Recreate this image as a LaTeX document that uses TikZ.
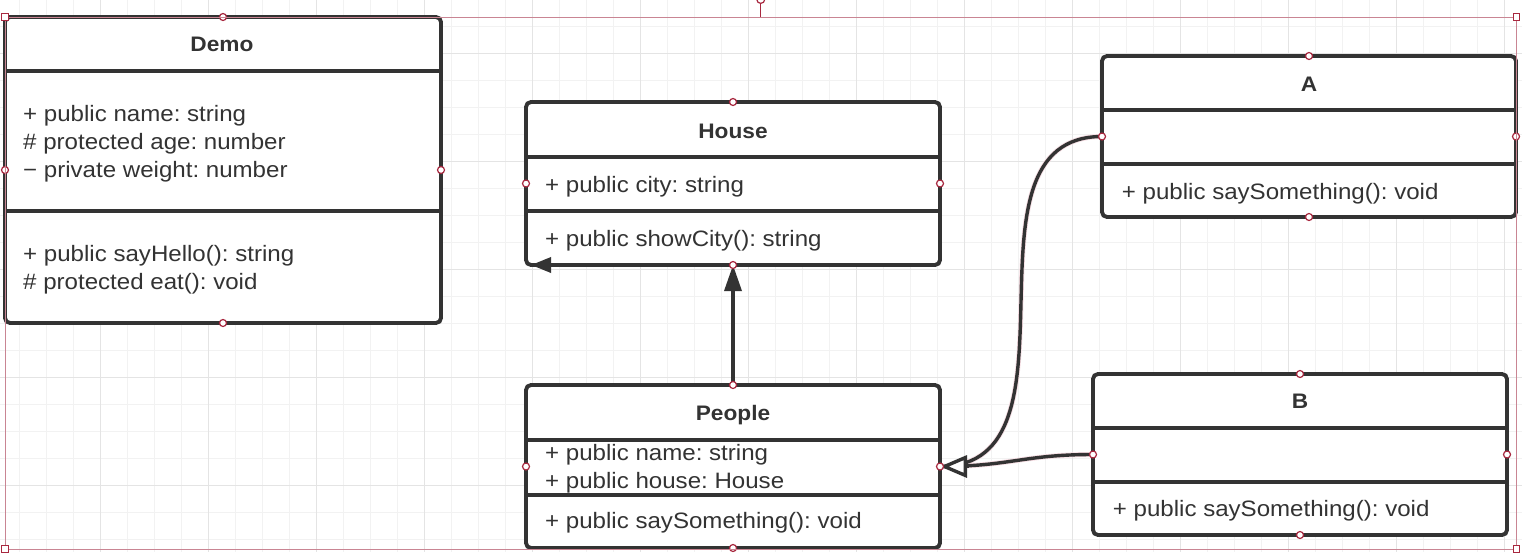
\documentclass[tikz,border=0pt]{standalone}
\usepackage{fontspec}
\setmainfont{Liberation Sans}[FakeStretch=1.08]
\usetikzlibrary{arrows.meta}
\definecolor{ink}{HTML}{333333}
\definecolor{gridminor}{HTML}{F2F2F2}
\definecolor{gridmajor}{HTML}{E4E4E4}
\definecolor{handle}{HTML}{A8283F}
\definecolor{selline}{HTML}{C98593}
\definecolor{glow}{HTML}{F6DDE3}
\frenchspacing
\begin{document}
\begin{tikzpicture}[x=1pt,y=-1pt,
  umlbox/.style={draw=ink, line width=3.9pt, rounded corners=5pt, fill=white, inner sep=0pt, outer sep=0pt, anchor=north west},
  divider/.style={draw=ink, line width=3.6pt},
  title/.style={font=\fontsize{21}{25}\selectfont\bfseries, text=ink, anchor=base, inner sep=0pt},
  member/.style={font=\fontsize{22.3}{27}\selectfont, text=ink, anchor=base west, inner sep=0pt},
  conn/.style={draw=ink, line width=3.4pt},
  glowline/.style={draw=glow, line width=5pt},
  hnd/.style={circle, draw=handle, fill=white, line width=1.2pt, minimum size=7pt, inner sep=0pt},
  cornerhnd/.style={rectangle, draw=handle, fill=white, line width=1.3pt, minimum size=6.5pt, inner sep=0pt},
]
% canvas
\fill[white] (0,0) rectangle (1522,552);
\useasboundingbox (0,0) rectangle (1522,552);
% grid
\foreach \k in {0,...,55} \draw[gridminor, line width=1pt] (19.6+27*\k,0) -- (19.6+27*\k,552);
\foreach \k in {0,...,19} \draw[gridminor, line width=1pt] (0,26.7+27*\k) -- (1522,26.7+27*\k);
\foreach \k in {0,...,13} \draw[gridmajor, line width=1pt] (100.6+108*\k,0) -- (100.6+108*\k,552);
\foreach \k in {0,...,4} \draw[gridmajor, line width=1pt] (0,53.7+108*\k) -- (1522,53.7+108*\k);

% boxes
\node[umlbox, minimum width=436pt, minimum height=306pt] (demo) at (5,17) {};
\node[umlbox, minimum width=414pt, minimum height=163pt] (house) at (526,102) {};
\node[umlbox, minimum width=414pt, minimum height=163pt] (people) at (526,385) {};
\node[umlbox, minimum width=414pt, minimum height=161pt] (a) at (1102,56) {};
\node[umlbox, minimum width=414pt, minimum height=161pt] (b) at (1093,374) {};

% dividers
\draw[divider] (demo.west |- 0,71) -- (demo.east |- 0,71);
\draw[divider] (demo.west |- 0,211) -- (demo.east |- 0,211);
\draw[divider] (house.west |- 0,157) -- (house.east |- 0,157);
\draw[divider] (house.west |- 0,211) -- (house.east |- 0,211);
\draw[divider] (people.west |- 0,440) -- (people.east |- 0,440);
\draw[divider] (people.west |- 0,495) -- (people.east |- 0,495);
\draw[divider] (a.west |- 0,110) -- (a.east |- 0,110);
\draw[divider] (a.west |- 0,164) -- (a.east |- 0,164);
\draw[divider] (b.west |- 0,428) -- (b.east |- 0,428);
\draw[divider] (b.west |- 0,482) -- (b.east |- 0,482);

% texts
\node[title] (demoT) at (222,51.7) {Demo};
\node[member] (demoA1) at (23,121.7) {+ public name: string};
\node[member] (demoA2) at (23,149.5) {\# protected age: number};
\node[member] (demoA3) at (23,177.3) {− private weight: number};
\node[member] (demoM1) at (23,261.5) {+ public sayHello(): string};
\node[member] (demoM2) at (23,289.3) {\# protected eat(): void};

\node[title] (houseT) at (733,138.5) {House};
\node[member] (houseA1) at (545,192.5) {+ public city: string};
\node[member] (houseM1) at (545,246.5) {+ public showCity(): string};

\node[title] (peopleT) at (733,420) {People};
\node[member] (peopleA1) at (545,460) {+ public name: string};
\node[member] (peopleA2) at (545,488.3) {+ public house: House};
\node[member] (peopleM1) at (545,528.3) {+ public saySomething(): void};

\node[title] (aT) at (1309,91) {A};
\node[member] (aM1) at (1121.7,199.3) {+ public saySomething(): void};

\node[title] (bT) at (1300,408) {B};
\node[member] (bM1) at (1112.7,516) {+ public saySomething(): void};

% connectors
\draw[conn, -{Triangle[length=26pt,width=17pt]}] (people.north) -- (house.south);
\coordinate (hcorner) at (531,265);
\draw[conn, -{Triangle[length=20pt,width=15pt]}] (house.south) -- (hcorner);

\draw[glowline] (a.west) .. controls +(-154,0) and +(154,0) .. (people.east);
\draw[glowline] (b.west) .. controls +(-70,0) and +(70,0) .. (people.east);
\draw[conn] (a.west) .. controls +(-154,0) and +(154,0) .. (people.east);
\draw[conn] (b.west) .. controls +(-70,0) and +(70,0) .. (people.east);
\coordinate (tipbase) at ([xshift=29pt]people.east);
\draw[conn, -{Triangle[open,length=27pt,width=22pt,fill=white]}] (tipbase) -- (people.east);

% connection handles
\foreach \bx in {demo,house,people,a,b}
  \foreach \sd in {north,south,east,west}
    \node[hnd] (h-\bx-\sd) at (\bx.\sd) {};

% selection frame
\node[draw=selline, line width=1pt, inner sep=0pt, outer sep=0pt, minimum width=1511.5pt, minimum height=532pt, anchor=north west] (sel) at (5,17) {};
\coordinate (rot) at (760.75,4);
\draw[draw=handle, line width=1.2pt] (sel.north) -- (rot);
\node[circle, draw=handle, fill=white, line width=1.2pt, minimum size=8pt, inner sep=0pt, anchor=south] (roth) at (rot) {};
\foreach \cn in {north west,north east,south west,south east}
  \node[cornerhnd] (c-\cn) at (sel.\cn) {};
\end{tikzpicture}
\end{document}
